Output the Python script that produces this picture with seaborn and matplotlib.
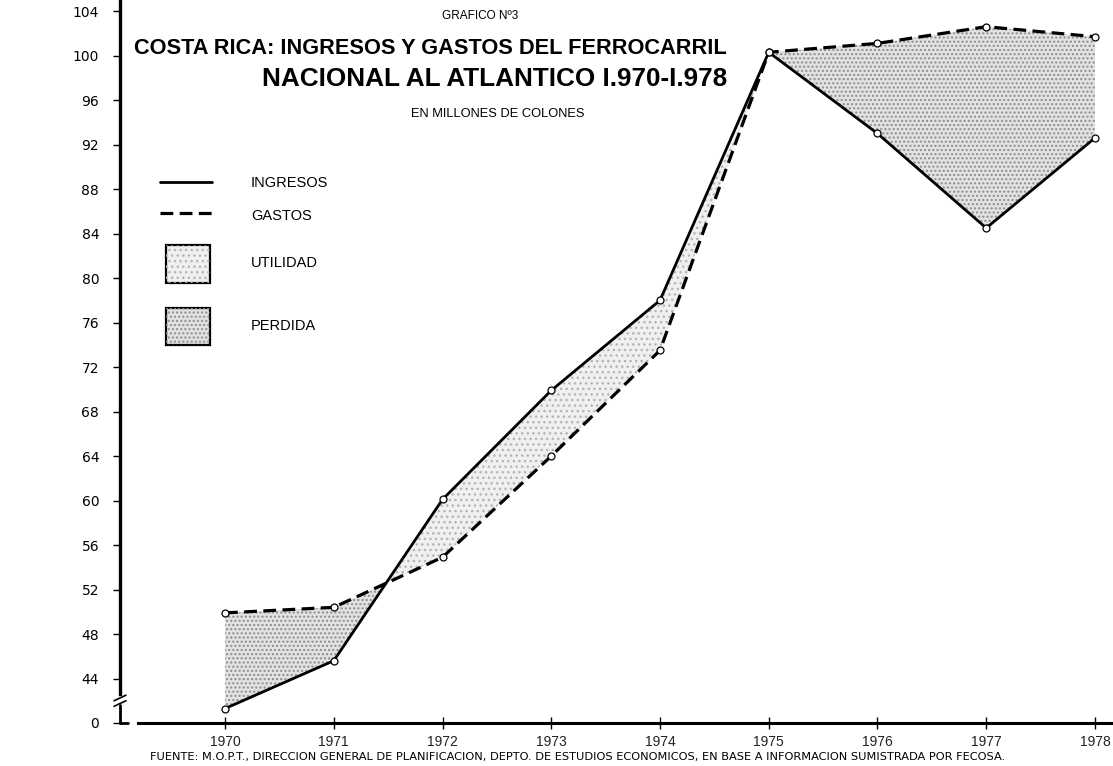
import numpy as np
import pandas as pd
import matplotlib
matplotlib.use('Agg')
import matplotlib.pyplot as plt
from matplotlib.lines import Line2D
from matplotlib.patches import Rectangle
import seaborn as sns

# datos (millones de colones)
years = [1970, 1971, 1972, 1973, 1974, 1975, 1976, 1977, 1978]
ingresos = [41.3, 45.6, 60.1, 69.9, 78.0, 100.3, 93.0, 84.5, 92.6]  # 1970 cae en el corte del eje
gastos = [49.9, 50.4, 54.9, 64.0, 73.5, 100.3, 101.1, 102.6, 101.7]
ytick_pos = [40, 44, 48, 52, 56, 60, 64, 68, 72, 76, 80, 84, 88, 92, 96, 100, 104]
ytick_lab = ['0', '44', '48', '52', '56', '60', '64', '68', '72', '76', '80', '84',
             '88', '92', '96', '100', '104']

sns.set_style('white', {'text.color': 'black', 'xtick.color': 'black',
                        'ytick.color': 'black', 'axes.edgecolor': 'black'})
plt.rcParams['font.family'] = ['Liberation Sans', 'DejaVu Sans']
plt.rcParams['hatch.linewidth'] = 1.0

df = pd.DataFrame({'year': years, 'ingresos': ingresos, 'gastos': gastos})

W, H = 1113, 766
fig = plt.figure(figsize=(W / 100, H / 100), dpi=100)
ax = fig.add_axes([120 / W, 1 - 723 / H, 1 - 120 / W, 723 / H])

x = df['year'].values.astype(float)
yi = df['ingresos'].values
yg = df['gastos'].values

UTIL = dict(facecolor='#f0f0f0', edgecolor='#b4b4b4', hatch='...', lw=0)
PERD = dict(facecolor='#e2e2e2', edgecolor='#8c8c8c', hatch='....', lw=0)

# utilidad / perdida
ax.fill_between(x, yi, yg, where=yi >= yg, interpolate=True, zorder=1, **UTIL)
ax.fill_between(x, yi, yg, where=yi <= yg, interpolate=True, zorder=1, **PERD)

sns.lineplot(data=df, x='year', y='ingresos', ax=ax, color='black', lw=2,
             marker='o', markersize=5, markerfacecolor='white',
             markeredgecolor='black', markeredgewidth=0.9, zorder=3)
sns.lineplot(data=df, x='year', y='gastos', ax=ax, color='black', lw=2.3,
             marker='o', markersize=5, markerfacecolor='white',
             markeredgecolor='black', markeredgewidth=0.9, zorder=3)
ax.lines[-1].set_dashes([4, 2])

ax.set_xlim(1969.034, 1978.166)
ax.set_ylim(40, 105)
ax.set_xlabel('')
ax.set_ylabel('')
ax.set_xticks(years)
ax.set_xticklabels([str(y) for y in years], fontsize=10, color='#222222')
ax.set_yticks(ytick_pos)
ax.set_yticklabels(ytick_lab, fontsize=10, family=['DejaVu Sans'])
ax.tick_params(axis='y', direction='out', length=5, width=1, pad=10, left=True)
ax.tick_params(axis='x', direction='inout', length=8, width=1, pad=5, bottom=True)

for s in ['top', 'right']:
    ax.spines[s].set_visible(False)
ax.spines['left'].set_linewidth(2.4)
ax.spines['left'].set_bounds(42.6, 105)
ax.spines['bottom'].set_linewidth(2.2)
ax.spines['bottom'].set_bounds(1969.2, 1978.166)

# corte del eje
tr = ax.get_yaxis_transform()
ax.plot([0, 0], [40, 41.6], transform=tr, color='black', lw=2, clip_on=False)
ax.plot([0, 0.008], [40, 40], transform=tr, color='black', lw=2, clip_on=False)
ax.plot([-0.006, 0.006], [42.0, 42.5], transform=tr, color='black', lw=1.2, clip_on=False)
ax.plot([-0.006, 0.006], [41.5, 42.0], transform=tr, color='black', lw=1.2, clip_on=False)

# titulos
def fx(px):
    return px / W

def fy(py):
    return 1 - py / H

fig.text(fx(480), fy(16), 'GRAFICO Nº3', fontsize=8.5, ha='center', va='center')
fig.text(fx(727), fy(48), 'COSTA RICA: INGRESOS Y GASTOS DEL FERROCARRIL',
         fontsize=15.7, fontweight='bold', ha='right', va='center')
fig.text(fx(727), fy(79), 'NACIONAL AL ATLANTICO I.970-I.978',
         fontsize=18.8, fontweight='bold', ha='right', va='center')
fig.text(fx(498), fy(114), 'EN MILLONES DE COLONES', fontsize=9.3,
         ha='center', va='center')

# leyenda
fig.add_artist(Line2D([fx(160), fx(212)], [fy(182), fy(182)], color='black', lw=2))
fig.add_artist(Line2D([fx(160), fx(212)], [fy(213), fy(213)], color='black', lw=2.3,
                      dashes=[4, 2]))
fig.add_artist(Rectangle((fx(166), fy(283)), fx(210) - fx(166), fy(245) - fy(283),
                         facecolor='#f0f0f0', edgecolor='black', lw=1.6))
fig.add_artist(Rectangle((fx(166), fy(283)), fx(210) - fx(166), fy(245) - fy(283),
                         facecolor='none', edgecolor='#b4b4b4', hatch='...', lw=0))
fig.add_artist(Rectangle((fx(166), fy(345)), fx(210) - fx(166), fy(308) - fy(345),
                         facecolor='#e2e2e2', edgecolor='black', lw=1.6))
fig.add_artist(Rectangle((fx(166), fy(345)), fx(210) - fx(166), fy(308) - fy(345),
                         facecolor='none', edgecolor='#8c8c8c', hatch='....', lw=0))
for lab, yy in [('INGRESOS', 183), ('GASTOS', 216), ('UTILIDAD', 263), ('PERDIDA', 326)]:
    fig.text(fx(251), fy(yy), lab, fontsize=10.5, ha='left', va='center')

fig.text(fx(150), fy(757),
         'FUENTE: M.O.P.T., DIRECCION GENERAL DE PLANIFICACION, DEPTO. DE ESTUDIOS '
         'ECONOMICOS, EN BASE A INFORMACION SUMISTRADA POR FECOSA.',
         fontsize=8.2, ha='left', va='center', family=['DejaVu Sans'])

plt.savefig('out.png', dpi=100)
